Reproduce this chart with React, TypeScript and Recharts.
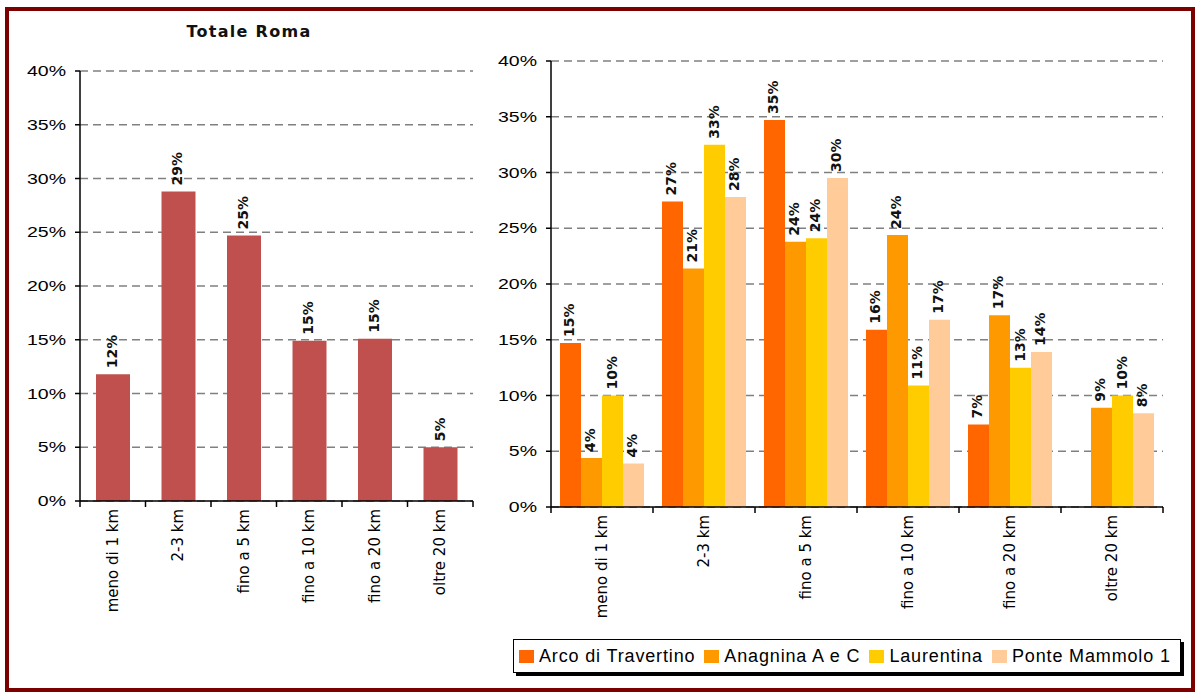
import React from 'react';
import { BarChart, Bar, XAxis, YAxis, CartesianGrid, LabelList, Legend } from 'recharts';

const categories = ['meno di 1 km', '2-3 km', 'fino a 5 km', 'fino a 10 km', 'fino a 20 km', 'oltre 20 km'];
const totaleRoma = [11.8, 28.8, 24.7, 14.9, 15.1, 5.0];
const arcoDiTravertino = [14.7, 27.4, 34.7, 15.9, 7.4, null];
const anagninaAeC = [4.4, 21.4, 23.8, 24.4, 17.2, 8.9];
const laurentina = [10.0, 32.5, 24.1, 10.9, 12.5, 10.0];
const ponteMammolo1 = [3.9, 27.8, 29.5, 16.8, 13.9, 8.4];
const yTicks = [0, 5, 10, 15, 20, 25, 30, 35, 40];

const seriesList = [
  { key: 'arco', name: 'Arco di Travertino', color: '#FF6600', values: arcoDiTravertino },
  { key: 'anagnina', name: 'Anagnina A e C', color: '#FF9900', values: anagninaAeC },
  { key: 'laurentina', name: 'Laurentina', color: '#FFCC00', values: laurentina },
  { key: 'ponte', name: 'Ponte Mammolo 1', color: '#FFCC99', values: ponteMammolo1 },
];

const totaleData = categories.map((name, i) => ({ name, totale: totaleRoma[i] }));
const zoneData = categories.map((name, i) => {
  const row: Record<string, any> = { name };
  seriesList.forEach((s) => (row[s.key] = s.values[i]));
  return row;
});

const tickFont = 'DejaVu Sans, Verdana, sans-serif';
const arialFont = 'Liberation Sans, Arial, sans-serif';

const ValueLabel = (props: any) => {
  const { x, y, width, value } = props;
  if (value == null) return null;
  const cx = x + width / 2 - 1;
  const cy = y - 6;
  return (
    <text
      x={cx}
      y={cy}
      transform={`rotate(-90 ${cx} ${cy})`}
      textAnchor="start"
      dominantBaseline="central"
      fontFamily={tickFont}
      fontWeight="bold"
      fontSize={14}
      fill="#111"
    >
      {Math.round(value)}%
    </text>
  );
};

const CategoryTick = (props: any) => {
  const { x, y, payload } = props;
  const half = payload.offset || 0;
  const isLast = payload.value === categories[categories.length - 1];
  const ty = y + 8;
  return (
    <g>
      <line x1={x - half} x2={x - half} y1={y} y2={y + 6} stroke="#000" strokeWidth={1.5} />
      {isLast && <line x1={x + half} x2={x + half} y1={y} y2={y + 6} stroke="#000" strokeWidth={1.5} />}
      <text
        x={x}
        y={ty}
        transform={`rotate(-90 ${x} ${ty})`}
        textAnchor="end"
        dominantBaseline="central"
        fontFamily={tickFont}
        fontSize={15}
        fill="#000"
      >
        {payload.value}
      </text>
    </g>
  );
};

// percent labels in the source are drawn wide, so stretch them a bit
const PctTick = (props: any) => {
  const { x, y, payload } = props;
  return (
    <g transform={`translate(${x},${y}) scale(1.3,1)`}>
      <text x={0} y={0} textAnchor="end" dominantBaseline="central" fontFamily={arialFont} fontSize={15} fill="#000">
        {payload.value}%
      </text>
    </g>
  );
};

const LegendBox = () => (
  <div
    style={{
      border: '1px solid #000',
      boxShadow: '3px 3px 0 #000',
      background: '#fff',
      height: 32,
      display: 'flex',
      alignItems: 'center',
      paddingLeft: 5,
      fontFamily: arialFont,
      fontSize: 18,
      letterSpacing: 0.85,
      color: '#000',
      whiteSpace: 'nowrap',
    }}
  >
    {seriesList.map((s) => (
      <span key={s.key} style={{ display: 'flex', alignItems: 'center', marginRight: 9 }}>
        <span style={{ display: 'inline-block', width: 15, height: 13, background: s.color, marginRight: 5 }} />
        {s.name}
      </span>
    ))}
  </div>
);

export default function App() {
  return (
    <div style={{ position: 'absolute', left: 0, top: 0, width: 1200, height: 697, background: '#fff', overflow: 'hidden' }}>
      <div
        style={{
          position: 'absolute',
          left: 5,
          top: 7,
          width: 1190,
          height: 685,
          border: '4px solid #7B0000',
          boxSizing: 'border-box',
        }}
      />
      <div
        style={{
          position: 'absolute',
          left: 149,
          top: 22,
          width: 200,
          textAlign: 'center',
          fontFamily: tickFont,
          fontWeight: 'bold',
          fontSize: 16,
          letterSpacing: 1.3,
          color: '#111',
        }}
      >
        Totale Roma
      </div>

      <div style={{ position: 'absolute', left: 0, top: 0 }}>
        <BarChart width={480} height={620} data={totaleData} margin={{ top: 71, right: 7, left: 20, bottom: 0 }}>
          <CartesianGrid vertical={false} stroke="#808080" strokeWidth={1.5} strokeDasharray="8 5" />
          <XAxis
            dataKey="name"
            height={119}
            interval={0}
            tickLine={false}
            tickSize={0}
            tickMargin={0}
            axisLine={{ stroke: '#000', strokeWidth: 1.5 }}
            tick={<CategoryTick />}
          />
          <YAxis
            width={60}
            domain={[0, 40]}
            ticks={yTicks}
            interval={0}
            tickSize={5}
            tickMargin={9}
            tick={<PctTick />}
            tickLine={{ stroke: '#000', strokeWidth: 1.5 }}
            axisLine={{ stroke: '#000', strokeWidth: 1.5 }}
          />
          <Bar dataKey="totale" fill="#C0504D" barSize={34} isAnimationActive={false}>
            <LabelList dataKey="totale" content={<ValueLabel />} />
          </Bar>
        </BarChart>
      </div>

      <div style={{ position: 'absolute', left: 480, top: 0 }}>
        <BarChart
          width={700}
          height={690}
          data={zoneData}
          barGap={0}
          margin={{ top: 61, right: 17, left: 10, bottom: 70 }}
        >
          <CartesianGrid vertical={false} stroke="#808080" strokeWidth={1.5} strokeDasharray="8 5" />
          <XAxis
            dataKey="name"
            height={113}
            interval={0}
            tickLine={false}
            tickSize={0}
            tickMargin={0}
            axisLine={{ stroke: '#000', strokeWidth: 1.5 }}
            tick={<CategoryTick />}
          />
          <YAxis
            width={61}
            domain={[0, 40]}
            ticks={yTicks}
            interval={0}
            tickSize={5}
            tickMargin={9}
            tick={<PctTick />}
            tickLine={{ stroke: '#000', strokeWidth: 1.5 }}
            axisLine={{ stroke: '#000', strokeWidth: 1.5 }}
          />
          <Legend
            layout="horizontal"
            verticalAlign="middle"
            align="center"
            content={<LegendBox />}
            wrapperStyle={{ left: 33, top: 639, width: 668, height: 34 }}
          />
          {seriesList.map((s) => (
            <Bar key={s.key} dataKey={s.key} name={s.name} fill={s.color} barSize={21} isAnimationActive={false}>
              <LabelList dataKey={s.key} content={<ValueLabel />} />
            </Bar>
          ))}
        </BarChart>
      </div>
    </div>
  );
}
